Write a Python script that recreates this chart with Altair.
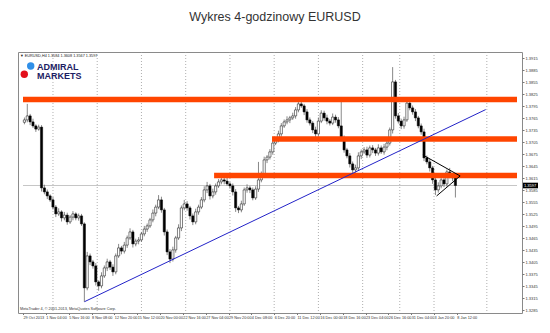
import altair as alt
import pandas as pd

# ---------------- data ----------------
# closing prices of 8-hour candles (every 2 four-hour bars)
closes = [
    1.3761, 1.3771, 1.3756, 1.3746, 1.3738, 1.3743, 1.3591, 1.3581, 1.3571, 1.3561,
    1.3543, 1.3526, 1.3531, 1.3516, 1.3523, 1.3506, 1.3518, 1.3526, 1.3516, 1.3521,
    1.3501, 1.3341, 1.3421, 1.3406, 1.3396, 1.3356, 1.3346, 1.3371, 1.3391, 1.3406,
    1.3393, 1.3381, 1.3421, 1.3441, 1.3433, 1.3448, 1.3466, 1.3481, 1.3451, 1.3458,
    1.3461, 1.3476, 1.3488, 1.3496, 1.3511, 1.3528, 1.3543, 1.3561, 1.3536, 1.3481,
    1.3431, 1.3413, 1.3436, 1.3466, 1.3491, 1.3541, 1.3551, 1.3541, 1.3521, 1.3506,
    1.3531, 1.3543, 1.3561, 1.3586, 1.3596, 1.3571, 1.3581, 1.3596, 1.3606, 1.3611,
    1.3608, 1.3601, 1.3596, 1.3581, 1.3541, 1.3536, 1.3551, 1.3586, 1.3591, 1.3586,
    1.3566, 1.3588, 1.3611, 1.3626, 1.3661, 1.3668, 1.3681, 1.3703, 1.3711, 1.3726,
    1.3746, 1.3756, 1.3761, 1.3766, 1.3771, 1.3786, 1.3801, 1.3796, 1.3781, 1.3761,
    1.3753, 1.3736, 1.3726, 1.3758, 1.3778, 1.3766, 1.3758, 1.3753, 1.3768, 1.3761,
    1.3746, 1.3716, 1.3686, 1.3671, 1.3651, 1.3636, 1.3641, 1.3671, 1.3681, 1.3686,
    1.3673, 1.3691, 1.3686, 1.3678, 1.3691, 1.3681, 1.3693, 1.3703, 1.3736, 1.3856,
    1.3771, 1.3758, 1.3746, 1.3761, 1.3803, 1.3791, 1.3781, 1.3766, 1.3746, 1.3731,
    1.3666, 1.3656, 1.3641, 1.3611, 1.3586, 1.3596, 1.3611, 1.3601, 1.3631, 1.3621,
    1.3616, 1.3597,
]
first_open = 1.3755
# upper / lower shadow lengths in pips
up_wick = [
    6, 30, 5, 8, 4, 6, 5, 8, 6, 4,
    7, 5, 9, 4, 8, 6, 5, 7, 4, 6,
    5, 4, 10, 6, 5, 7, 4, 9, 6, 8,
    5, 7, 6, 10, 5, 8, 6, 9, 5, 6,
    7, 5, 8, 6, 5, 9, 6, 12, 8, 5,
    6, 7, 8, 5, 9, 6, 10, 7, 5, 6,
    8, 6, 7, 9, 10, 5, 8, 6, 7, 9,
    6, 8, 5, 6, 7, 5, 8, 6, 9, 5,
    6, 7, 45, 6, 8, 5, 7, 9, 6, 8,
    7, 6, 9, 5, 8, 7, 10, 6, 5, 7,
    6, 5, 8, 9, 7, 6, 8, 5, 9, 6,
    7, 65, 6, 5, 7, 6, 8, 9, 6, 7,
    8, 6, 7, 5, 9, 6, 8, 7, 6, 37,
    5, 7, 6, 8, 5, 9, 6, 7, 5, 6,
    8, 6, 7, 5, 6, 9, 8, 12, 6, 10,
    7, 3,
]
dn_wick = [
    5, 6, 8, 5, 7, 4, 9, 6, 8, 5,
    6, 8, 5, 9, 6, 7, 5, 8, 6, 7,
    5, 35, 6, 8, 7, 9, 12, 6, 5, 8,
    7, 10, 6, 5, 8, 6, 7, 5, 9, 6,
    8, 5, 6, 7, 5, 6, 8, 5, 7, 9,
    8, 10, 6, 7, 5, 8, 6, 7, 9, 8,
    6, 7, 5, 6, 8, 9, 6, 7, 5, 6,
    8, 5, 7, 9, 10, 8, 6, 5, 7, 8,
    6, 5, 7, 6, 5, 8, 6, 7, 5, 6,
    7, 5, 6, 8, 5, 7, 6, 5, 8, 7,
    6, 8, 9, 6, 5, 7, 8, 6, 5, 7,
    6, 8, 7, 6, 9, 10, 7, 6, 8, 5,
    7, 6, 8, 7, 6, 5, 7, 8, 6, 9,
    7, 6, 8, 7, 5, 6, 7, 8, 6, 7,
    8, 6, 9, 10, 13, 7, 6, 8, 7, 6,
    8, 30,
]

date_labels = [
    "29 Oct 2013", "1 Nov 04:00", "5 Nov 16:00", "8 Nov 08:00", "12 Nov 20:00",
    "15 Nov 12:00", "20 Nov 00:00", "22 Nov 16:00", "27 Nov 04:00", "29 Nov 20:00",
    "4 Dec 08:00", "6 Dec 20:00", "11 Dec 12:00", "16 Dec 00:00", "18 Dec 16:00",
    "23 Dec 04:00", "26 Dec 16:00", "31 Dec 04:00", "3 Jan 20:00", "8 Jan 12:00",
]
date_label_bars = [0, 16, 32, 48, 64, 80, 96, 112, 128, 144,
                   160, 176, 192, 208, 224, 240, 256, 272, 288, 304]
price_ticks = [1.3285, 1.3315, 1.3345, 1.3375, 1.3405, 1.3435, 1.3465, 1.3495,
               1.3525, 1.3555, 1.3585, 1.3615, 1.3645, 1.3675, 1.3705, 1.3735,
               1.3765, 1.3795, 1.3825, 1.3855, 1.3885, 1.3915]
grid_bars = [21, 52, 83, 114, 145, 176, 207, 238, 264, 288, 325]

# support / resistance levels
levels = [1.3812, 1.3713, 1.3622]
level_start = [0, 174.5, 133.9]
# trend line (bar, price)
trend_bars = [43.1, 324.2]
trend_prices = [1.33065, 1.37868]
# triangle sides
tri_from_bars = [280.2, 289.8]
tri_from_prices = [1.36733, 1.35708]
tri_to_bar = 306.3
tri_to_price = 1.36208
last_price = 1.3597

X_MAX = 346.15
Y_MIN, Y_MAX = 1.327825, 1.393075
W, H = 504, 261

# ---------------- tables ----------------
opens = [first_open] + closes[:-1]
candles = pd.DataFrame({
    "bar": [2 * k + 1 for k in range(len(closes))],
    "open": opens,
    "close": closes,
})
candles["high"] = [max(o, c) + u * 0.0001 for o, c, u in zip(opens, closes, up_wick)]
candles["low"] = [min(o, c) - d * 0.0001 for o, c, d in zip(opens, closes, dn_wick)]
candles["dir"] = ["up" if c >= o else "down" for o, c in zip(opens, closes)]

FONT = "Liberation Sans"
xs = alt.Scale(domain=[0, X_MAX], nice=False, zero=False)
ys = alt.Scale(domain=[Y_MIN, Y_MAX], nice=False, zero=False)
XAXIS = alt.Axis(
    values=date_label_bars,
    labelExpr="[" + ",".join("'" + s + "'" for s in date_labels) + "][round(datum.value/16)]",
    labelAlign="left", labelBaseline="top", labelFontSize=3.8, labelFont=FONT,
    labelColor="#333", tickSize=1.5, tickColor="#777", labelPadding=0.5,
    labelOverlap=False, labelFlush=False, labelBound=False, domain=False,
    grid=False, title=None,
)
YAXIS = alt.Axis(
    orient="right", values=price_ticks, format=".4f", labelFontSize=4,
    labelFont=FONT, labelColor="#333", tickSize=2, tickColor="#777",
    labelPadding=1, labelOverlap=False, labelFlush=False, labelBound=False,
    domain=False, grid=False, title=None,
)


def X(field):
    return alt.X(field, scale=xs, axis=XAXIS)


def Y(field):
    return alt.Y(field, scale=ys, axis=YAXIS)


grid = alt.Chart(pd.DataFrame({"bar": grid_bars})).mark_rule(
    color="#9a9a9a", strokeWidth=0.8, strokeDash=[1, 2]
).encode(x=X("bar:Q"))

cur_line = alt.Chart(pd.DataFrame({"p": [last_price], "a": [0], "b": [X_MAX]})).mark_rule(
    color="#c6c6c6", strokeWidth=1
).encode(y=Y("p:Q"), x=X("a:Q"), x2="b:Q")

wicks = alt.Chart(candles).mark_rule(color="#6a6a6a", strokeWidth=0.8).encode(
    x=X("bar:Q"), y=Y("low:Q"), y2="high:Q",
)

bodies = alt.Chart(candles).mark_bar(size=2.2, stroke="#000", strokeWidth=0.5).encode(
    x=X("bar:Q"), y=Y("open:Q"), y2="close:Q",
    fill=alt.Fill("dir:N", scale=alt.Scale(domain=["up", "down"], range=["#ffffff", "#000000"]),
                  legend=None),
)

lv = pd.DataFrame({"p": levels, "a": level_start, "b": [X_MAX] * len(levels)})
level_rules = alt.Chart(lv).mark_rule(color="#ff4500", strokeWidth=5.5).encode(
    y=Y("p:Q"), x=X("a:Q"), x2="b:Q",
)

tr = pd.DataFrame({"x1": [trend_bars[0]], "x2": [trend_bars[1]],
                   "y1": [trend_prices[0]], "y2": [trend_prices[1]]})
trend = alt.Chart(tr).mark_rule(color="#2323c8", strokeWidth=1).encode(
    x=X("x1:Q"), x2="x2:Q", y=Y("y1:Q"), y2="y2:Q",
)

tri = pd.DataFrame({"x1": tri_from_bars, "y1": tri_from_prices,
                    "x2": [tri_to_bar] * 2, "y2": [tri_to_price] * 2})
triangle = alt.Chart(tri).mark_rule(color="#000", strokeWidth=1).encode(
    x=X("x1:Q"), x2="x2:Q", y=Y("y1:Q"), y2="y2:Q",
)

# current price tag on the right axis
tag = pd.DataFrame({"p": [last_price], "hi": [last_price + 0.0007],
                    "lo": [last_price - 0.0007], "t": ["%.4f" % last_price]})
tag_box = alt.Chart(tag).mark_rect(color="#000").encode(
    x=alt.value(W + 1), x2=alt.value(W + 16), y=Y("hi:Q"), y2="lo:Q",
)
tag_text = alt.Chart(tag).mark_text(
    color="#fff", fontSize=4, font=FONT, align="left", baseline="middle"
).encode(x=alt.value(W + 2), y=Y("p:Q"), text="t:N")

one = pd.DataFrame({"a": [0]})
title = alt.Chart(one).mark_text(
    text="Wykres 4-godzinowy EURUSD", font=FONT, fontSize=12.5, color="#333",
    align="center", baseline="alphabetic",
).encode(x=alt.value(257), y=alt.value(-31))

header = alt.Chart(one).mark_text(
    text="▼ EURUSD,H4  1.3584 1.3608 1.3567 1.3597", font=FONT, fontSize=3.8,
    color="#222", align="left", baseline="top",
).encode(x=alt.value(2), y=alt.value(1.5))

footer = alt.Chart(one).mark_text(
    text="MetaTrader 4, © 2001-2013, MetaQuotes Software Corp.", font=FONT,
    fontSize=3.8, color="#333", align="left", baseline="middle",
).encode(x=alt.value(2), y=alt.value(257))

blue_dot = alt.Chart(one).mark_circle(color="#2f8fe8", opacity=1, size=55).encode(
    x=alt.value(12.7), y=alt.value(14))
red_dot = alt.Chart(one).mark_circle(color="#e3101b", opacity=1, size=55).encode(
    x=alt.value(6.3), y=alt.value(22.3))
logo1 = alt.Chart(one).mark_text(
    text="ADMIRAL", font=FONT, fontSize=9, fontWeight="bold", color="#1c2063",
    align="left", baseline="alphabetic",
).encode(x=alt.value(19), y=alt.value(17.5))
logo2 = alt.Chart(one).mark_text(
    text="MARKETS", font=FONT, fontSize=9, fontWeight="bold", color="#1c2063",
    align="left", baseline="alphabetic",
).encode(x=alt.value(19), y=alt.value(27))

chart = alt.layer(
    grid, cur_line, wicks, bodies, level_rules, trend, triangle,
    tag_box, tag_text, title, header, footer, blue_dot, red_dot, logo1, logo2,
).properties(
    width=W, height=H,
    padding={"left": 18, "top": 52, "right": 28, "bottom": 20},
    autosize=alt.AutoSizeParams(type="none"),
    background="#ffffff",
).configure_view(stroke="#8a8a8a", strokeWidth=1)

chart.save("out.html", embed_options={"renderer": "svg", "actions": False})
